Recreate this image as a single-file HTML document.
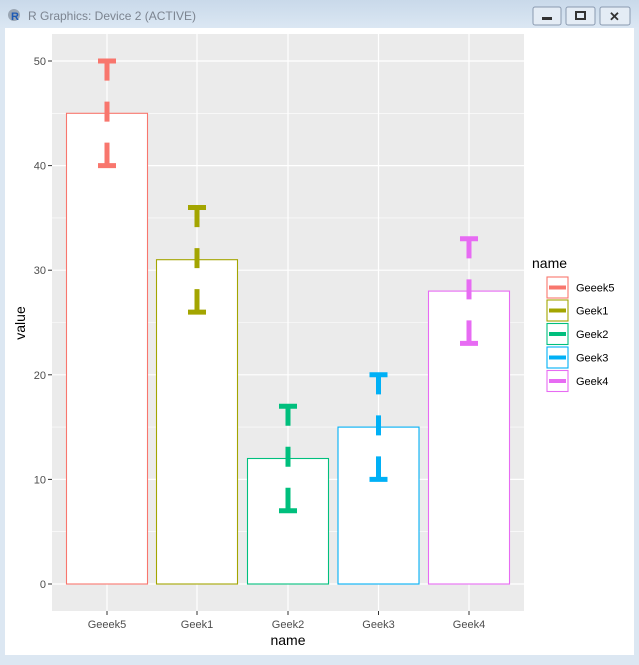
<!DOCTYPE html>
<html><head><style>
body{margin:0;width:639px;height:660px;overflow:hidden;background:#dce7f2;font-family:"Liberation Sans",sans-serif}
</style></head><body>
<svg width="639" height="660" xmlns="http://www.w3.org/2000/svg" font-family="Liberation Sans, sans-serif">
<defs><linearGradient id="tb" x1="0" y1="0" x2="0" y2="1"><stop offset="0" stop-color="#c9d9ea"/><stop offset="1" stop-color="#dbe7f3"/></linearGradient></defs>
<rect x="0" y="0" width="639" height="660" fill="#dce7f2"/>
<rect x="0" y="0" width="639" height="28" fill="url(#tb)"/>
<circle cx="14" cy="15" r="6" fill="#9aa6b4"/><text x="11" y="20" font-size="11" font-weight="bold" fill="#1f5bb5">R</text>
<text x="28" y="20" font-size="12" fill="#7c8490">R Graphics: Device 2 (ACTIVE)</text>
<g fill="#e4ecf5" stroke="#8a9ab0"><rect x="533" y="7" width="28" height="18" rx="2"/><rect x="566" y="7" width="29" height="18" rx="2"/><rect x="600" y="7" width="30" height="18" rx="2"/></g>
<rect x="542" y="17" width="10" height="3" fill="#333"/><rect x="576" y="12" width="9" height="7" fill="none" stroke="#333" stroke-width="2"/>
<text x="609" y="21" font-size="13" font-weight="bold" fill="#333">✕</text>
<rect x="5" y="28" width="629" height="627" fill="#fff"/>
<rect x="52" y="34" width="472" height="577" fill="#ebebeb"/>
<g stroke="#fff" stroke-width="0.6">
<line x1="52" x2="524" y1="531.7" y2="531.7"/><line x1="52" x2="524" y1="427.1" y2="427.1"/><line x1="52" x2="524" y1="322.5" y2="322.5"/><line x1="52" x2="524" y1="217.9" y2="217.9"/><line x1="52" x2="524" y1="113.3" y2="113.3"/>
</g>
<g stroke="#fff" stroke-width="1.2">
<line x1="52" x2="524" y1="584" y2="584"/><line x1="52" x2="524" y1="479.4" y2="479.4"/><line x1="52" x2="524" y1="374.8" y2="374.8"/><line x1="52" x2="524" y1="270.2" y2="270.2"/><line x1="52" x2="524" y1="165.6" y2="165.6"/><line x1="52" x2="524" y1="61" y2="61"/>
<line x1="107" x2="107" y1="34" y2="611"/><line x1="197" x2="197" y1="34" y2="611"/><line x1="288" x2="288" y1="34" y2="611"/><line x1="378.5" x2="378.5" y1="34" y2="611"/><line x1="469" x2="469" y1="34" y2="611"/>
</g>
<g fill="#fff" stroke-width="1.1">
<rect x="66.5" y="113.3" width="81" height="470.7" stroke="#F8766D"/>
<rect x="156.5" y="259.7" width="81" height="324.3" stroke="#A3A500"/>
<rect x="247.5" y="458.5" width="81" height="125.5" stroke="#00BF7D"/>
<rect x="338" y="427.1" width="81" height="156.9" stroke="#00B0F6"/>
<rect x="428.5" y="291.1" width="81" height="292.9" stroke="#E76BF3"/>
</g>
<g stroke-width="5" fill="none">
<g stroke="#F8766D"><line x1="98" x2="116" y1="61" y2="61"/><line x1="98" x2="116" y1="165.6" y2="165.6"/><line x1="107" x2="107" y1="165.6" y2="61" stroke-dasharray="23 21 20 21 30"/></g>
<g stroke="#A3A500"><line x1="188" x2="206" y1="207.5" y2="207.5"/><line x1="188" x2="206" y1="312.1" y2="312.1"/><line x1="197" x2="197" y1="312.1" y2="207.5" stroke-dasharray="23 21 20 21 30"/></g>
<g stroke="#00BF7D"><line x1="279" x2="297" y1="406.2" y2="406.2"/><line x1="279" x2="297" y1="510.8" y2="510.8"/><line x1="288" x2="288" y1="510.8" y2="406.2" stroke-dasharray="23 21 20 21 30"/></g>
<g stroke="#00B0F6"><line x1="369.5" x2="387.5" y1="374.8" y2="374.8"/><line x1="369.5" x2="387.5" y1="479.4" y2="479.4"/><line x1="378.5" x2="378.5" y1="479.4" y2="374.8" stroke-dasharray="23 21 20 21 30"/></g>
<g stroke="#E76BF3"><line x1="460" x2="478" y1="238.8" y2="238.8"/><line x1="460" x2="478" y1="343.4" y2="343.4"/><line x1="469" x2="469" y1="343.4" y2="238.8" stroke-dasharray="23 21 20 21 30"/></g>
</g>
<g stroke="#333" stroke-width="1">
<line x1="48" x2="52" y1="584" y2="584"/><line x1="48" x2="52" y1="479.4" y2="479.4"/><line x1="48" x2="52" y1="374.8" y2="374.8"/><line x1="48" x2="52" y1="270.2" y2="270.2"/><line x1="48" x2="52" y1="165.6" y2="165.6"/><line x1="48" x2="52" y1="61" y2="61"/>
<line x1="107" x2="107" y1="611" y2="615"/><line x1="197" x2="197" y1="611" y2="615"/><line x1="288" x2="288" y1="611" y2="615"/><line x1="378.5" x2="378.5" y1="611" y2="615"/><line x1="469" x2="469" y1="611" y2="615"/>
</g>
<g font-size="11" fill="#4d4d4d" text-anchor="end">
<text x="46" y="588">0</text><text x="46" y="483.4">10</text><text x="46" y="378.8">20</text><text x="46" y="274.2">30</text><text x="46" y="169.6">40</text><text x="46" y="65">50</text>
</g>
<g font-size="11" fill="#4d4d4d" text-anchor="middle">
<text x="107" y="628">Geeek5</text><text x="197" y="628">Geek1</text><text x="288" y="628">Geek2</text><text x="378.5" y="628">Geek3</text><text x="469" y="628">Geek4</text>
</g>
<text x="288" y="645" font-size="14" text-anchor="middle" fill="#000">name</text>
<text transform="translate(25,323) rotate(-90)" font-size="14" text-anchor="middle" fill="#000">value</text>
<text x="532" y="268" font-size="14" fill="#000">name</text>
<g stroke-width="1.1" fill="#fff">
<rect x="547" y="277" width="21" height="21" stroke="#F8766D"/>
<rect x="547" y="300" width="21" height="21" stroke="#A3A500"/>
<rect x="547" y="323.5" width="21" height="21" stroke="#00BF7D"/>
<rect x="547" y="347" width="21" height="21" stroke="#00B0F6"/>
<rect x="547" y="370.5" width="21" height="21" stroke="#E76BF3"/>
</g>
<g stroke-width="4">
<line x1="549" x2="566" y1="287.5" y2="287.5" stroke="#F8766D"/>
<line x1="549" x2="566" y1="310.5" y2="310.5" stroke="#A3A500"/>
<line x1="549" x2="566" y1="334" y2="334" stroke="#00BF7D"/>
<line x1="549" x2="566" y1="357.5" y2="357.5" stroke="#00B0F6"/>
<line x1="549" x2="566" y1="381" y2="381" stroke="#E76BF3"/>
</g>
<g font-size="11" fill="#000">
<text x="576" y="291.5">Geeek5</text><text x="576" y="314.5">Geek1</text><text x="576" y="338">Geek2</text><text x="576" y="361.5">Geek3</text><text x="576" y="385">Geek4</text>
</g>
</svg>
</body></html>
